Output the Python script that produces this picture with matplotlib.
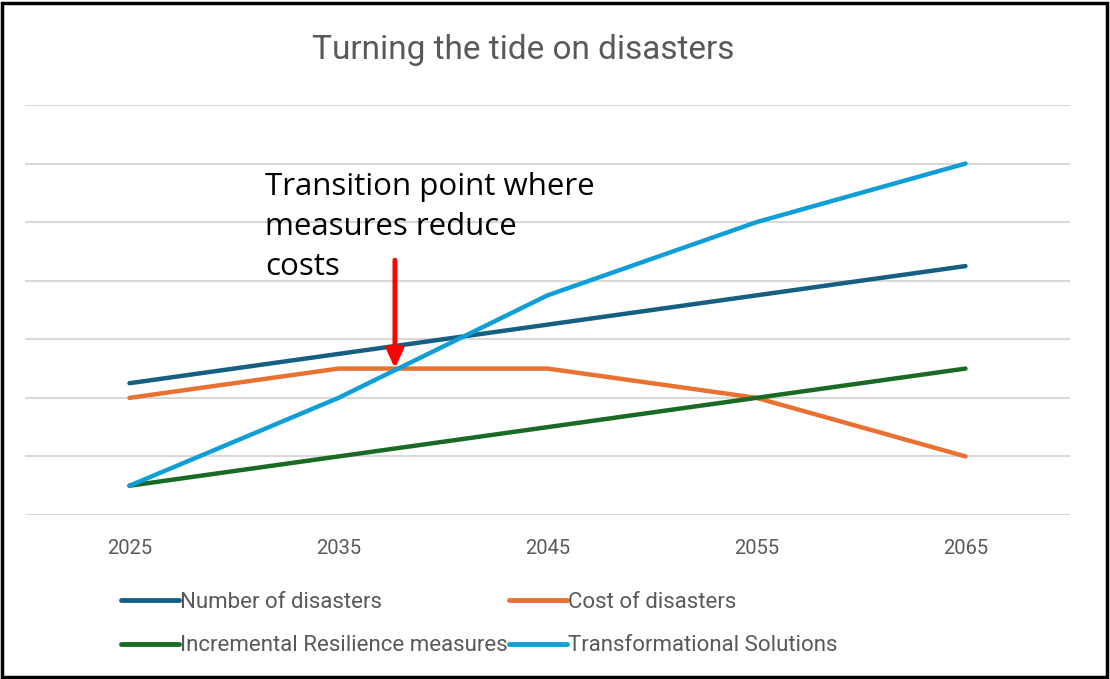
import matplotlib
matplotlib.use("Agg")
import matplotlib.pyplot as plt
from matplotlib.patches import Rectangle
from matplotlib.lines import Line2D

years = ["2025", "2035", "2045", "2055", "2065"]
number_of_disasters = [2.25, 2.75, 3.25, 3.75, 4.25]
cost_of_disasters = [2.0, 2.5, 2.5, 2.0, 1.0]
incremental_resilience = [0.5, 1.0, 1.5, 2.0, 2.5]
transformational = [0.5, 2.0, 3.75, 5.0, 6.0]
series_names = ["Number of disasters", "Cost of disasters",
                "Incremental Resilience measures", "Transformational Solutions"]
colors = ["#156082", "#E97132", "#196B24", "#0F9ED5"]
transition_x = 1.27
transition_y = 2.5

W, H = 1110, 679
fig = plt.figure(figsize=(W / 100, H / 100), dpi=100)
ax = fig.add_axes([25 / W, (H - 515) / H, (1070 - 25) / W, (515 - 105) / H])

x = list(range(len(years)))
data = [number_of_disasters, cost_of_disasters, incremental_resilience, transformational]
for vals, c, name in zip(data, colors, series_names):
    ax.plot(x, vals, color=c, lw=3.2, solid_capstyle="round", solid_joinstyle="round",
            label=name, zorder=3)

ax.set_xlim(-0.5, 4.5)
ax.set_ylim(0, 7)
ax.set_yticks(range(0, 8))
ax.set_yticklabels([])
ax.tick_params(axis="y", length=0)
ax.grid(axis="y", color="#D9D9D9", lw=1.5)
ax.set_axisbelow(True)
for s in ax.spines.values():
    s.set_visible(False)
ax.set_xticks(x)
ax.set_xticklabels(years, color="#595959", fontsize=14.5, family="Roboto")
ax.tick_params(axis="x", length=0, pad=17)

fig.text(523 / W, 1 - 50 / H, "Turning the tide on disasters", ha="center", va="center",
         fontsize=24, color="#595959", family="Roboto")

ax.annotate("", xy=(transition_x, transition_y), xytext=(transition_x, 4.35),
            arrowprops=dict(arrowstyle="-|>,head_width=0.5,head_length=1.1", color="#FF0000",
                            lw=3.5, shrinkA=0, shrinkB=0), zorder=5)
fig.text(265 / W, 1 - 227 / H, "Transition point where\nmeasures reduce\ncosts",
         ha="left", va="center", fontsize=22.5, color="black", linespacing=1.42,
         family="Open Sans")

order = [0, 2, 1, 3]
handles = [Line2D([0], [0], color=colors[i], lw=3.5, solid_capstyle="round") for i in order]
labels = [series_names[i] for i in order]
leg = fig.legend(handles, labels, loc="upper left", ncol=2,
                 bbox_to_anchor=(110 / W, 1 - 581 / H), frameon=False,
                 prop={"family": "Roboto", "size": 16},
                 handlelength=2.6, handletextpad=0.06, columnspacing=0.05,
                 labelspacing=1.0, borderpad=0)
for t in leg.get_texts():
    t.set_color("#595959")

fig.patches.append(Rectangle((0.002, 0.003), 0.995, 0.993, transform=fig.transFigure,
                             fill=False, ec="black", lw=2.5))

fig.savefig("out.png", dpi=100)
